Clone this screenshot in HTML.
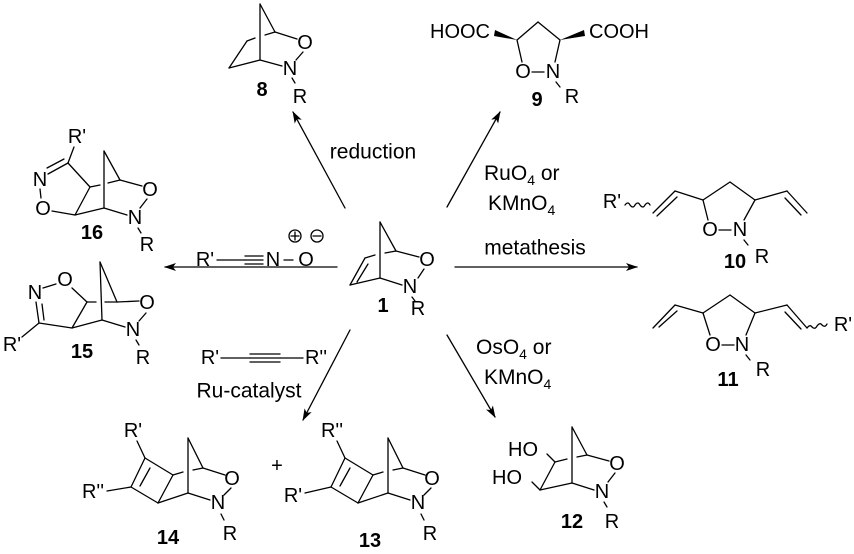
<!DOCTYPE html>
<html><head><meta charset="utf-8"><style>
html,body{margin:0;padding:0;background:#fff;}
svg{display:block;}
text{font-family:"Liberation Sans",sans-serif;font-size:20px;fill:#000;}
.b{font-weight:bold;}
.t{font-size:21px;}
.s{font-size:14px;}
</style></head><body>
<svg width="854" height="554" viewBox="0 0 854 554" xmlns="http://www.w3.org/2000/svg">
<defs><marker id="ah" markerWidth="12" markerHeight="8" refX="11" refY="4" orient="auto" markerUnits="userSpaceOnUse"><path d="M0,0 L12,4 L0,8 L3,4 Z" fill="#000"/></marker></defs>
<g stroke="#000" stroke-width="1.3" fill="none" stroke-linecap="round">
<line x1="345" y1="208" x2="293" y2="112" marker-end="url(#ah)"/>
<line x1="447" y1="207" x2="500" y2="112" marker-end="url(#ah)"/>
<line x1="337" y1="267" x2="165" y2="267" marker-end="url(#ah)"/>
<line x1="455" y1="267" x2="637" y2="267" marker-end="url(#ah)"/>
<line x1="350" y1="330" x2="303" y2="420" marker-end="url(#ah)"/>
<line x1="447" y1="335" x2="495" y2="417" marker-end="url(#ah)"/>

<!-- compound 1 -->
<line x1="380" y1="222" x2="396" y2="251"/>
<line x1="396" y1="251" x2="419" y2="257"/>
<line x1="424" y1="269" x2="418" y2="278"/>
<line x1="380" y1="278" x2="402" y2="285"/>
<line x1="380" y1="222" x2="380" y2="278"/>
<line x1="350" y1="285" x2="380" y2="278"/>
<line x1="365" y1="258" x2="350" y2="285"/>
<line x1="368" y1="264" x2="357" y2="282"/>
<line x1="365" y1="258" x2="375" y2="255"/>
<line x1="385" y1="253" x2="396" y2="251"/>
<line x1="412" y1="297" x2="415" y2="301"/>

<!-- compound 8 -->
<line x1="260" y1="4" x2="275" y2="32"/>
<line x1="275" y1="32" x2="297" y2="39"/>
<line x1="303" y1="52" x2="296" y2="60"/>
<line x1="260" y1="60" x2="282" y2="66"/>
<line x1="260" y1="4" x2="260" y2="60"/>
<line x1="260" y1="60" x2="229" y2="68"/>
<line x1="229" y1="68" x2="247" y2="41"/>
<line x1="247" y1="41" x2="255" y2="38"/>
<line x1="265" y1="35" x2="275" y2="32"/>
<line x1="292" y1="78" x2="295" y2="83"/>

<!-- compound 9 -->
<line x1="517" y1="40" x2="538" y2="22"/>
<line x1="538" y1="22" x2="560" y2="40"/>
<line x1="517" y1="40" x2="522" y2="62"/>
<line x1="560" y1="40" x2="555" y2="62"/>
<line x1="532" y1="72" x2="544" y2="72"/>
<line x1="556" y1="82" x2="560" y2="87"/>

<!-- compound 10 -->
<path d="M625,205 q3,-4 5,0 q3,4 5,0 q3,-4 5,0 q3,4 5,0 q3,-4 5,0"/>
<line x1="653" y1="213" x2="675" y2="191"/>
<line x1="657" y1="216" x2="677" y2="197"/>
<line x1="675" y1="191" x2="703" y2="200"/>
<line x1="703" y1="200" x2="730" y2="182"/>
<line x1="730" y1="182" x2="755" y2="200"/>
<line x1="755" y1="200" x2="787" y2="191"/>
<line x1="787" y1="191" x2="807" y2="213"/>
<line x1="785" y1="198" x2="801" y2="215"/>
<line x1="703" y1="200" x2="708" y2="220"/>
<line x1="755" y1="200" x2="744" y2="220"/>
<line x1="719" y1="230" x2="731" y2="230"/>
<line x1="744" y1="240" x2="748" y2="245"/>

<!-- compound 11 -->
<line x1="653" y1="328" x2="675" y2="305"/>
<line x1="659" y1="327" x2="677" y2="311"/>
<line x1="675" y1="305" x2="703" y2="313"/>
<line x1="703" y1="313" x2="730" y2="295"/>
<line x1="730" y1="295" x2="755" y2="313"/>
<line x1="755" y1="313" x2="787" y2="305"/>
<line x1="787" y1="305" x2="807" y2="328"/>
<line x1="785" y1="312" x2="801" y2="329"/>
<path d="M807,328 q3,-4 5,-1 q3,3 5,-1 q3,-4 5,-1 q3,3 5,-1"/>
<line x1="703" y1="313" x2="710" y2="335"/>
<line x1="755" y1="313" x2="746" y2="335"/>
<line x1="722" y1="345" x2="734" y2="345"/>
<line x1="746" y1="355" x2="750" y2="360"/>

<!-- compound 12 -->
<line x1="572" y1="427" x2="587" y2="455"/>
<line x1="587" y1="455" x2="609" y2="461"/>
<line x1="615" y1="473" x2="608" y2="482"/>
<line x1="572" y1="483" x2="594" y2="490"/>
<line x1="572" y1="427" x2="572" y2="483"/>
<line x1="540" y1="490" x2="572" y2="483"/>
<line x1="555" y1="462" x2="540" y2="490"/>
<line x1="555" y1="462" x2="567" y2="459"/>
<line x1="577" y1="457" x2="587" y2="455"/>
<line x1="555" y1="462" x2="547" y2="454"/>
<line x1="540" y1="490" x2="532" y2="482"/>
<line x1="604" y1="502" x2="607" y2="507"/>

<!-- compound 16 -->
<line x1="74" y1="147" x2="68" y2="163"/>
<line x1="68" y1="163" x2="48" y2="174"/>
<line x1="64" y1="159" x2="47" y2="168"/>
<line x1="40" y1="189" x2="41" y2="198"/>
<line x1="52" y1="211" x2="75" y2="215"/>
<line x1="75" y1="215" x2="90" y2="187"/>
<line x1="90" y1="187" x2="68" y2="163"/>
<line x1="90" y1="187" x2="100" y2="185"/>
<line x1="108" y1="183" x2="120" y2="180"/>
<line x1="104" y1="151" x2="120" y2="180"/>
<line x1="120" y1="180" x2="142" y2="186"/>
<line x1="147" y1="199" x2="140" y2="208"/>
<line x1="104" y1="208" x2="127" y2="215"/>
<line x1="104" y1="151" x2="104" y2="208"/>
<line x1="75" y1="215" x2="104" y2="208"/>
<line x1="138" y1="228" x2="141" y2="233"/>

<!-- compound 15 -->
<line x1="43" y1="288" x2="56" y2="284"/>
<line x1="72" y1="288" x2="87" y2="302"/>
<line x1="87" y1="302" x2="72" y2="328"/>
<line x1="39" y1="323" x2="36" y2="302"/>
<line x1="44" y1="320" x2="42" y2="304"/>
<line x1="39" y1="323" x2="72" y2="328"/>
<line x1="39" y1="323" x2="22" y2="337"/>
<line x1="72" y1="328" x2="102" y2="320"/>
<line x1="87" y1="302" x2="96" y2="302"/>
<line x1="105" y1="302" x2="117" y2="302"/>
<line x1="100" y1="262" x2="117" y2="302"/>
<line x1="100" y1="262" x2="102" y2="320"/>
<line x1="117" y1="302" x2="139" y2="301"/>
<line x1="146" y1="313" x2="139" y2="321"/>
<line x1="102" y1="320" x2="125" y2="327"/>
<line x1="136" y1="340" x2="139" y2="345"/>

<!-- compound 14 -->
<line x1="137" y1="441" x2="145" y2="458"/>
<line x1="145" y1="458" x2="131" y2="487"/>
<line x1="150" y1="468" x2="140" y2="486"/>
<line x1="131" y1="487" x2="107" y2="491"/>
<line x1="131" y1="487" x2="158" y2="503"/>
<line x1="158" y1="503" x2="173" y2="475"/>
<line x1="173" y1="475" x2="145" y2="458"/>
<line x1="173" y1="475" x2="183" y2="472"/>
<line x1="193" y1="470" x2="203" y2="468"/>
<line x1="188" y1="438" x2="203" y2="468"/>
<line x1="203" y1="468" x2="225" y2="475"/>
<line x1="231" y1="488" x2="224" y2="495"/>
<line x1="188" y1="493" x2="210" y2="500"/>
<line x1="188" y1="438" x2="188" y2="493"/>
<line x1="158" y1="503" x2="188" y2="493"/>
<line x1="221" y1="514" x2="224" y2="520"/>

<g transform="translate(200,0)">
<line x1="137" y1="441" x2="145" y2="458"/>
<line x1="145" y1="458" x2="131" y2="487"/>
<line x1="150" y1="468" x2="140" y2="486"/>
<line x1="131" y1="487" x2="105" y2="493"/>
<line x1="131" y1="487" x2="158" y2="503"/>
<line x1="158" y1="503" x2="173" y2="475"/>
<line x1="173" y1="475" x2="145" y2="458"/>
<line x1="173" y1="475" x2="183" y2="472"/>
<line x1="193" y1="470" x2="203" y2="468"/>
<line x1="188" y1="438" x2="203" y2="468"/>
<line x1="203" y1="468" x2="225" y2="475"/>
<line x1="231" y1="488" x2="224" y2="495"/>
<line x1="188" y1="493" x2="210" y2="500"/>
<line x1="188" y1="438" x2="188" y2="493"/>
<line x1="158" y1="503" x2="188" y2="493"/>
<line x1="221" y1="514" x2="224" y2="520"/>
</g>

<!-- reagents -->
<line x1="217" y1="260" x2="245" y2="260"/>
<line x1="245" y1="256" x2="263" y2="256"/>
<line x1="245" y1="260" x2="263" y2="260"/>
<line x1="245" y1="264" x2="263" y2="264"/>
<line x1="284" y1="260" x2="293" y2="260"/>
<circle cx="295" cy="236" r="6"/><line x1="291" y1="236" x2="299" y2="236"/><line x1="295" y1="232" x2="295" y2="240"/>
<circle cx="317" cy="236" r="6"/><line x1="313" y1="236" x2="321" y2="236"/>
<line x1="221" y1="358" x2="250" y2="358"/>
<line x1="250" y1="354" x2="280" y2="354"/>
<line x1="250" y1="358" x2="280" y2="358"/>
<line x1="250" y1="362" x2="280" y2="362"/>
<line x1="280" y1="358" x2="303" y2="358"/>
</g>
<polygon points="517,40 495,30 494,36" fill="#000"/>
<polygon points="560,40 584,30 585,36" fill="#000"/>

<g text-anchor="middle" dominant-baseline="central">
<text x="427" y="260">O</text><text x="410" y="287">N</text><text x="418" y="309">R</text><text x="383" y="306" class="b">1</text>
<text x="305" y="43">O</text><text x="290" y="69">N</text><text x="300" y="97">R</text><text x="262" y="90" class="b">8</text>
<text x="523" y="72">O</text><text x="553" y="72">N</text><text x="572" y="97">R</text><text x="537" y="100" class="b">9</text>
<text x="460" y="32">HOOC</text><text x="619" y="32">COOH</text>
<text x="612" y="202">R'</text><text x="710" y="230">O</text><text x="740" y="230">N</text><text x="762" y="257">R</text><text x="735" y="262" class="b">10</text>
<text x="843" y="325">R'</text><text x="713" y="345">O</text><text x="742" y="345">N</text><text x="763" y="370">R</text><text x="728" y="380" class="b">11</text>
<text x="617" y="464">O</text><text x="602" y="492">N</text><text x="612" y="522">R</text><text x="572" y="522" class="b">12</text>
<text x="523" y="450">HO</text><text x="507" y="478">HO</text>
<text x="77" y="137">R'</text><text x="40" y="180">N</text><text x="43" y="209">O</text><text x="150" y="190">O</text><text x="135" y="218">N</text><text x="147" y="245">R</text><text x="92" y="233" class="b">16</text>
<text x="35" y="293">N</text><text x="65" y="280">O</text><text x="12" y="345">R'</text><text x="147" y="303">O</text><text x="133" y="330">N</text><text x="143" y="358">R</text><text x="82" y="352" class="b">15</text>
<text x="133" y="431">R'</text><text x="93" y="492">R''</text><text x="232" y="479">O</text><text x="218" y="503">N</text><text x="230" y="534">R</text><text x="168" y="538" class="b">14</text>
<text x="277" y="466">+</text>
<text x="332" y="431">R''</text><text x="293" y="496">R'</text><text x="432" y="479">O</text><text x="418" y="503">N</text><text x="430" y="534">R</text><text x="370" y="541" class="b">13</text>
<text x="205" y="260">R'</text><text x="273" y="260">N</text><text x="306" y="260">O</text>
<text x="210" y="358">R'</text><text x="316" y="358">R''</text>
<text x="249" y="391" class="t">Ru-catalyst</text>
<text x="373" y="152" class="t">reduction</text>
<text x="535" y="248" class="t">metathesis</text>
</g>
<text x="484" y="180" class="t">RuO<tspan class="s" dy="5">4</tspan><tspan dy="-5"> or</tspan></text>
<text x="488" y="210" class="t">KMnO<tspan class="s" dy="5">4</tspan></text>
<text x="476" y="354" class="t">OsO<tspan class="s" dy="5">4</tspan><tspan dy="-5"> or</tspan></text>
<text x="484" y="384" class="t">KMnO<tspan class="s" dy="5">4</tspan></text>
</svg>
</body></html>
